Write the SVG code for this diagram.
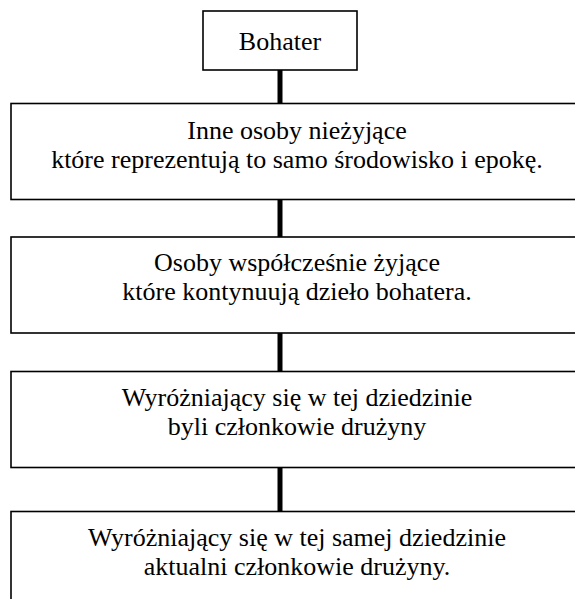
<svg xmlns="http://www.w3.org/2000/svg" width="575" height="599" viewBox="0 0 575 599">
<style>
.box{fill:#fff;stroke:#000;stroke-width:1.6}
.t{font-family:'Liberation Serif','Times New Roman','DejaVu Serif',serif;font-size:26px;fill:#000;text-anchor:middle}
.c{stroke:#000;stroke-width:5;fill:none}
</style>
<rect width="575" height="599" fill="#fff"/>
<g id="connectors">
<line class="c" x1="280" y1="70" x2="280" y2="104"/>
<line class="c" x1="280" y1="199" x2="280" y2="237"/>
<line class="c" x1="280" y1="333" x2="280" y2="372"/>
<line class="c" x1="280" y1="467" x2="280" y2="512"/>
</g>
<g id="n0">
<rect class="box" x="203" y="11" width="154" height="59"/>
<text class="t" x="280" y="50">Bohater</text>
</g>
<g id="n1">
<rect class="box" x="11" y="103.5" width="572" height="96"/>
<text class="t" x="297" y="139">Inne osoby nieżyjące</text>
<text class="t" x="297" y="168">które reprezentują to samo środowisko i epokę.</text>
</g>
<g id="n2">
<rect class="box" x="11" y="237" width="572" height="96"/>
<text class="t" x="297" y="271">Osoby współcześnie żyjące</text>
<text class="t" x="297" y="300">które kontynuują dzieło bohatera.</text>
</g>
<g id="n3">
<rect class="box" x="11" y="371.5" width="572" height="96"/>
<text class="t" x="297" y="406">Wyróżniający się w tej dziedzinie</text>
<text class="t" x="297" y="435">byli członkowie drużyny</text>
</g>
<g id="n4">
<rect class="box" x="11" y="511.5" width="572" height="100"/>
<text class="t" x="297" y="546">Wyróżniający się w tej samej dziedzinie</text>
<text class="t" x="297" y="575">aktualni członkowie drużyny.</text>
</g>
</svg>
